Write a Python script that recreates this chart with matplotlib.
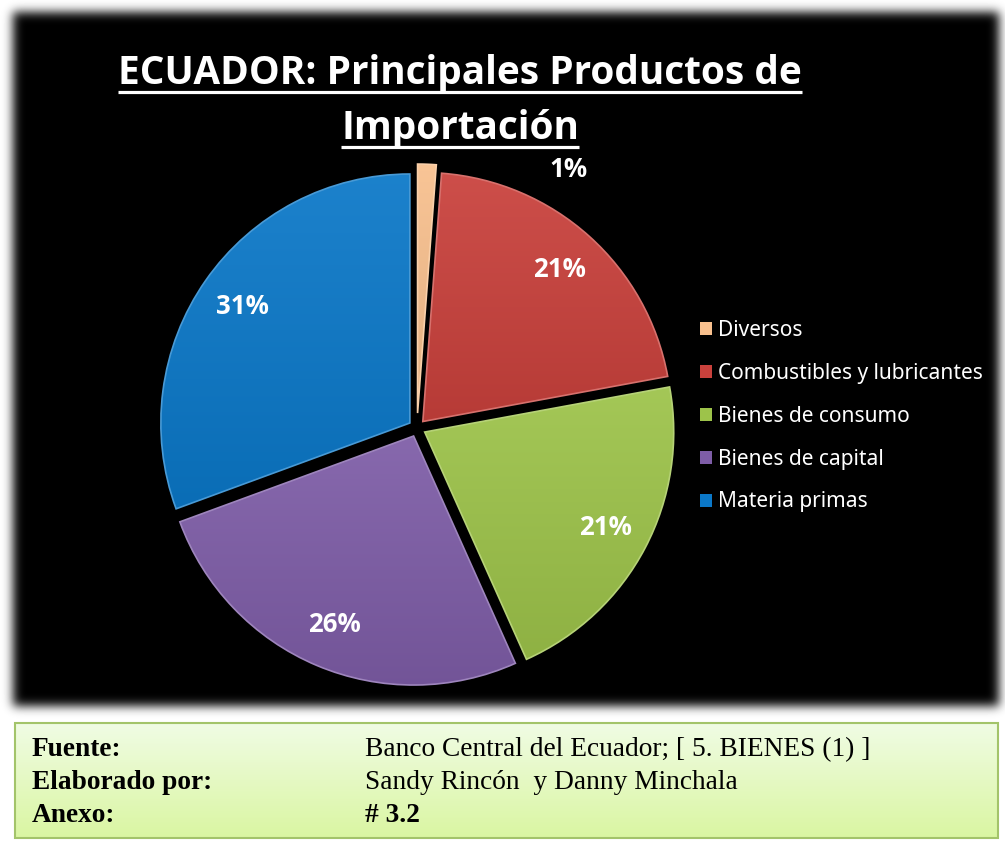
import numpy as np
import matplotlib
matplotlib.use('Agg')
from matplotlib import pyplot as plt
from matplotlib import font_manager
from matplotlib import colors as mcolors
from matplotlib.patches import Rectangle

# datos del grafico
categorias = ['Diversos', 'Combustibles y lubricantes', 'Bienes de consumo',
              'Bienes de capital', 'Materia primas']
valores = [1.2, 20.9, 21.2, 26.1, 30.6]
colores = ['#f8c08e', '#c9413c', '#9dc34a', '#7e5da7', '#0b78c8']
titulo = ['ECUADOR: Principales Productos de', 'Importación']
nota_campos = ['Fuente:', 'Elaborado por:', 'Anexo:']
nota_textos = ['Banco Central del Ecuador; [ 5. BIENES (1) ]',
               'Sandy Rincón  y Danny Minchala', '# 3.2']

W, H = 1005, 841


def elegir_fuente():
    cond = {f.name for f in font_manager.fontManager.ttflist
            if str(f.stretch) in ('condensed', 'semi-condensed')}
    for nombre in ['Liberation Sans Narrow', 'Noto Sans', 'Open Sans', 'Roboto', 'DejaVu Sans']:
        if nombre in cond:
            return nombre, 'condensed'
    return 'Lato', 'normal'


sans, estiramiento = elegir_fuente()

fig = plt.figure(figsize=(W / 100, H / 100), dpi=100)
renderer = fig.canvas.get_renderer()


def ajustar(texto, ancho, **kw):
    # tamano de letra para que el texto ocupe el ancho dado (px)
    t = fig.text(0, 0, texto, fontsize=20, **kw)
    w = t.get_window_extent(renderer).width
    t.remove()
    return 20 * ancho / w


kw_sans = dict(family=sans, fontstretch=estiramiento)

# fondo con la sombra del area negra
ax_bg = fig.add_axes([0, 0, 1, 1])
yy, xx = np.mgrid[0:H, 0:W]
mascara = ((xx >= 13) & (xx <= 998) & (yy >= 12) & (yy <= 705)).astype(float)


def difuminar(a, s):
    k = np.exp(-0.5 * (np.arange(-3 * s, 3 * s + 1) / s) ** 2)
    k /= k.sum()
    a = np.apply_along_axis(lambda r: np.convolve(r, k, mode='same'), 1, a)
    a = np.apply_along_axis(lambda c: np.convolve(c, k, mode='same'), 0, a)
    return a


sombra = 1 - difuminar(mascara, 5)
ax_bg.imshow(sombra, cmap='gray', vmin=0, vmax=1, extent=[0, W, H, 0],
             aspect='auto', interpolation='bilinear')

# cuadro verde de la nota
caja = Rectangle((15, 723), 983, 115, facecolor='none', edgecolor='#a3c46a', lw=1.5, zorder=3)
ax_bg.add_patch(caja)
grad = np.zeros((64, 1, 3))
t = np.linspace(0, 1, 64)
c0 = np.array(mcolors.to_rgb('#f0fce4'))
c1 = np.array(mcolors.to_rgb('#daf6a2'))
grad[:, 0, :] = c0 * (1 - t[:, None]) + c1 * t[:, None]
im = ax_bg.imshow(grad, extent=[15, 998, 838, 723], aspect='auto', zorder=2,
                  interpolation='bilinear')
im.set_clip_path(caja)
ax_bg.set_xlim(0, W)
ax_bg.set_ylim(H, 0)
ax_bg.axis('off')

fs_nota = ajustar(nota_textos[0], 505, family='Liberation Serif')
for i, (campo, texto) in enumerate(zip(nota_campos, nota_textos)):
    yb = 756 + 33 * i
    ax_bg.text(32, yb, campo, family='Liberation Serif', fontweight='bold',
               fontsize=fs_nota, va='baseline', color='black')
    ax_bg.text(365, yb, texto, family='Liberation Serif', fontsize=fs_nota, va='baseline',
               color='black', fontweight='bold' if i == 2 else 'normal')

# titulo subrayado
fs_tit = ajustar(titulo[0], 685, fontweight='bold', **kw_sans)
for i, linea in enumerate(titulo):
    yb = 84 + 55 * i
    tx = ax_bg.text(460, yb, linea, ha='center', va='baseline', color='white',
                    fontweight='bold', fontsize=fs_tit, **kw_sans)
    bb = tx.get_window_extent(renderer)
    yl = yb + 0.2 * fs_tit * 100 / 72
    ax_bg.plot([bb.x0, bb.x1], [yl, yl], color='white', lw=2.3, solid_capstyle='butt')

# pastel
cx, cy, R = 417, 428, 249
ax = fig.add_axes([(cx - 1.3 * R) / W, 1 - (cy + 1.3 * R) / H, 2.6 * R / W, 2.6 * R / H])
ax.patch.set_alpha(0)
fs_pct = ajustar('21%', 53, fontweight='bold', **kw_sans)
explode = [0.06, 0.035, 0.035, 0.035, 0.035]
wedges, _, autotextos = ax.pie(
    valores, colors=colores, explode=explode, startangle=90, counterclock=False,
    autopct='%1.0f%%', pctdistance=0.82, radius=1, wedgeprops=dict(linewidth=0),
    textprops=dict(color='white', fontweight='bold', fontsize=fs_pct, **kw_sans))
autotextos[0].set_position((0.61, 1.04))

# degradado y bisel de cada porcion
for w, col in zip(wedges, colores):
    bb = w.get_path().get_extents()
    c = np.array(mcolors.to_rgb(col))
    arriba = c + (1 - c) * 0.07
    abajo = c * 0.91
    g = np.zeros((64, 1, 3))
    g[:, 0, :] = arriba * (1 - t[:, None]) + abajo * t[:, None]
    img = ax.imshow(g, extent=[bb.x0, bb.x1, bb.y0, bb.y1], origin='upper',
                    aspect='auto', zorder=1.5, interpolation='bilinear')
    img.set_clip_path(w)
    w.set_edgecolor(tuple(c + (1 - c) * 0.25))
    w.set_linewidth(1.2)
    w.set_zorder(1.6)
    w.set_facecolor('none')

ax.set_xlim(-1.3, 1.3)
ax.set_ylim(-1.3, 1.3)
ax.set_aspect('equal')
ax.axis('off')

# leyenda
ley_fuente = 'Noto Sans'
fs_ley = ajustar(categorias[1], 265, family=ley_fuente)
fs_px = fs_ley * 100 / 72
manijas = [Rectangle((0, 0), 1, 1, facecolor=c) for c in colores]


def hacer_leyenda(espacio):
    return fig.legend(manijas, categorias, loc='center left',
                      bbox_to_anchor=(700 / W, 1 - 416 / H),
                      frameon=False, prop=dict(family=ley_fuente, size=fs_ley),
                      labelcolor='white', handlelength=12 / fs_px, handleheight=12 / fs_px,
                      handletextpad=6 / fs_px, labelspacing=espacio,
                      borderpad=0, borderaxespad=0)


espacio = 1.0
ley = hacer_leyenda(espacio)
fig.canvas.draw()
ys = [tx.get_window_extent(renderer).y0 for tx in ley.get_texts()]
paso = abs(ys[0] - ys[-1]) / (len(ys) - 1)
ley.remove()
ley = hacer_leyenda(espacio + (43 - paso) / fs_px)

fig.savefig('out.png', dpi=100)
